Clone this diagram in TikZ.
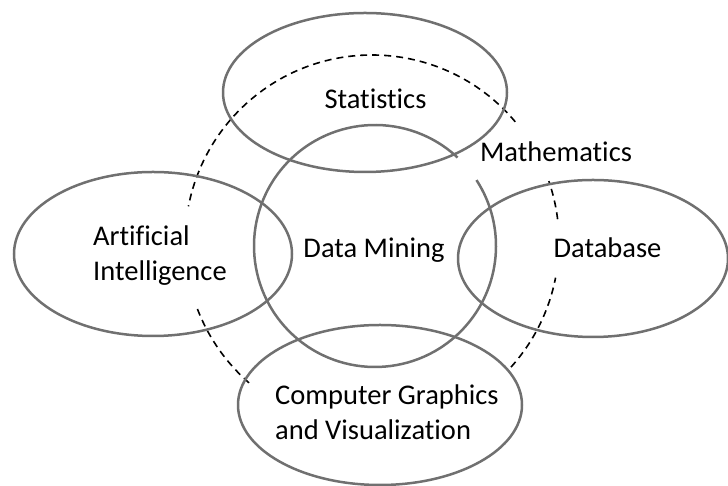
\documentclass[tikz,border=0pt]{standalone}
\usepackage{fontspec}
\setmainfont{Carlito}[Ligatures=NoCommon]
\usetikzlibrary{shapes.geometric}
\definecolor{ringgray}{RGB}{112,112,112}
\begin{document}
\begin{tikzpicture}[x=1pt,y=1pt,
  ring/.style={draw=ringgray, line width=2.5pt},
  blob/.style={ring, ellipse, inner sep=0pt, outer sep=0pt},
  txt/.style={font=\fontsize{28.5}{35}\selectfont, inner sep=0pt, text=black},
  mathring/.style={draw=black, line width=1.6pt, dash pattern=on 7pt off 5pt}
]
\useasboundingbox (0,0) rectangle (728,486);

% centre of the dashed Mathematics ring and of the Data Mining circle
\coordinate (mc) at (372,244);
\coordinate (dm) at (375,240);

% dashed Mathematics ring, broken around the labels
\draw[mathring] (mc) ++(40:187) arc[start angle=40, end angle=169, radius=187];
\draw[mathring] (mc) ++(7:187) arc[start angle=7, end angle=19, radius=187];
\draw[mathring] (mc) ++(-42:187) arc[start angle=-42, end angle=-11, radius=187];
\draw[mathring] (mc) ++(201:187) arc[start angle=201, end angle=230, radius=187];

% the four surrounding fields
\node[blob, minimum width=284pt, minimum height=159pt] (stat) at (365,393.5) {};
\node[blob, minimum width=278pt, minimum height=164pt] (ai) at (153,232) {};
\node[blob, minimum width=270pt, minimum height=157pt] (db) at (593,227.5) {};
\node[blob, minimum width=284pt, minimum height=160pt] (cg) at (380,81) {};

% Data Mining circle, open where the Mathematics label sits
\draw[ring] (dm) ++(47:121) arc[start angle=47, end angle=393, radius=121];

% labels (two-line labels are placed by the baseline of their last line)
\node[txt, anchor=base] (stattext) at (375.5,377) {Statistics};
\node[txt, anchor=base] (mathtext) at (556,324) {Mathematics};
\node[txt, anchor=base] (dmtext) at (374,228) {Data Mining};
\node[txt, anchor=base] (dbtext) at (607.5,228) {Database};
\node[txt, anchor=base west, align=left] (aitext) at (93,205) {Artificial\\Intelligence};
\node[txt, anchor=base west, align=left] (cgtext) at (275,46) {Computer Graphics\\and Visualization};
\end{tikzpicture}
\end{document}
